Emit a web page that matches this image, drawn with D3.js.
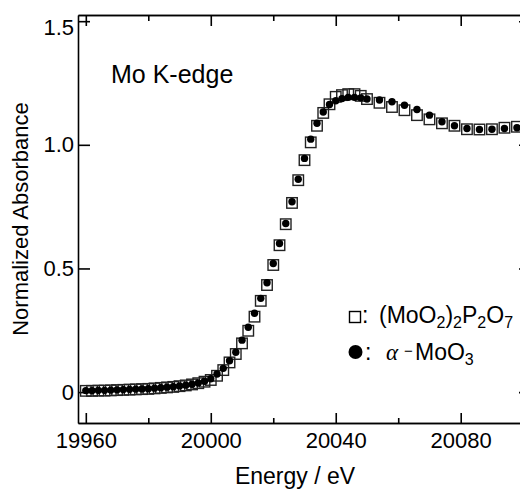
<!DOCTYPE html>
<html>
<head>
<meta charset="utf-8">
<script src="https://cdn.jsdelivr.net/npm/d3@7"></script>
<style>
    body { margin: 0; background: #fff; }
    svg { display: block; font-family: "Liberation Sans", Arial, sans-serif; }
</style>
</head>
<body>
<xanes-chart></xanes-chart>
<script>
// photon energy (eV)
const energy = [
    19960, 19962, 19964, 19966, 19968, 19970, 19972, 19974, 19976, 19978,
    19980, 19982, 19984, 19986, 19988, 19990, 19992, 19994, 19996, 19998,
    20000, 20002, 20004, 20006, 20008, 20010, 20012, 20014, 20016, 20018,
    20020, 20022, 20024, 20026, 20028, 20030, 20032, 20034, 20036, 20038,
    20040, 20042, 20044, 20046, 20048, 20050, 20054, 20058, 20062, 20066,
    20070, 20074, 20078, 20082, 20086, 20090, 20094, 20098
];

// (MoO2)2P2O7 - open squares
const moP2O7 = [
    0.005, 0.005, 0.006, 0.006, 0.007, 0.008, 0.009, 0.010, 0.011, 0.012,
    0.013, 0.015, 0.017, 0.019, 0.021, 0.024, 0.027, 0.031, 0.036, 0.042,
    0.049, 0.066, 0.089, 0.120, 0.154, 0.197, 0.248, 0.305, 0.369, 0.433,
    0.514, 0.594, 0.679, 0.765, 0.857, 0.938, 1.010, 1.077, 1.129, 1.164,
    1.194, 1.201, 1.205, 1.205, 1.198, 1.185, 1.170, 1.153, 1.140, 1.120,
    1.103, 1.087, 1.077, 1.063, 1.062, 1.063, 1.069, 1.073
];

// alpha-MoO3 - filled circles
const moO3 = [
    0.006, 0.006, 0.007, 0.007, 0.008, 0.009, 0.010, 0.011, 0.012, 0.013,
    0.014, 0.016, 0.018, 0.020, 0.022, 0.025, 0.028, 0.032, 0.037, 0.044,
    0.054, 0.073, 0.096, 0.127, 0.161, 0.210, 0.262, 0.319, 0.379, 0.442,
    0.520, 0.601, 0.682, 0.770, 0.861, 0.945, 1.023, 1.087, 1.133, 1.163,
    1.178, 1.187, 1.192, 1.192, 1.190, 1.185, 1.181, 1.174, 1.160, 1.143,
    1.120, 1.093, 1.077, 1.066, 1.062, 1.063, 1.066, 1.069
];

const xTicks = [19960, 20000, 20040, 20080];
const xMinorTicks = [19980, 20020, 20060, 20100];
const yTicks = [0, 0.5, 1.0, 1.5];
const yTickLabels = ['0', '0.5', '1.0', '1.5'];

class XanesChart extends HTMLElement {
    constructor() {
        super();
        this.width = 520;
        this.height = 489;
        this.box = { left: 78, right: 531, top: 15, bottom: 423 };

        this.svg = d3.select(this)
            .append('svg')
            .attr('width', this.width)
            .attr('height', this.height);

        this.x = d3.scaleLinear()
            .domain([19957.5, 20102.5])
            .range([this.box.left, this.box.right]);

        this.y = d3.scaleLinear()
            .domain([-0.125, 1.525])
            .range([this.box.bottom, this.box.top]);
    }

    connectedCallback() {
        this.#drawAxes();
        this.#drawPoints();
        this.#drawLabels();
        this.#drawLegend();
    }

    #styleAxis(g) {
        g.selectAll('path, line').attr('stroke', '#000').attr('stroke-width', 1.6);
        g.selectAll('text').attr('fill', '#000').attr('font-size', 22)
            .attr('font-family', '"Liberation Sans", Arial, sans-serif');
    }

    #drawAxes() {
        const { left, right, top, bottom } = this.box;

        // bottom
        this.svg.append('g')
            .attr('transform', `translate(0, ${bottom})`)
            .call(d3.axisBottom(this.x).tickValues(xTicks).tickFormat(d3.format('d'))
                .tickSize(-10).tickSizeOuter(0).tickPadding(9))
            .call(g => this.#styleAxis(g));
        this.svg.append('g')
            .attr('transform', `translate(0, ${bottom})`)
            .call(d3.axisBottom(this.x).tickValues(xMinorTicks).tickFormat('')
                .tickSize(-5).tickSizeOuter(0))
            .call(g => this.#styleAxis(g));

        // top
        this.svg.append('g')
            .attr('transform', `translate(0, ${top})`)
            .call(d3.axisTop(this.x).tickValues(xTicks).tickFormat('')
                .tickSize(-11).tickSizeOuter(0))
            .call(g => this.#styleAxis(g));
        this.svg.append('g')
            .attr('transform', `translate(0, ${top})`)
            .call(d3.axisTop(this.x).tickValues(xMinorTicks).tickFormat('')
                .tickSize(-6).tickSizeOuter(0))
            .call(g => this.#styleAxis(g));

        // left
        this.svg.append('g')
            .attr('transform', `translate(${left}, 0)`)
            .call(d3.axisLeft(this.y).tickValues(yTicks)
                .tickFormat((d, i) => yTickLabels[i])
                .tickSize(-12).tickSizeOuter(0).tickPadding(4))
            .call(g => this.#styleAxis(g))
            .call(g => g.selectAll('text').filter(d => d === 1.5).attr('dy', '0.62em'));

        // right
        this.svg.append('g')
            .attr('transform', `translate(${right}, 0)`)
            .call(d3.axisRight(this.y).tickValues(yTicks).tickFormat('')
                .tickSize(-12).tickSizeOuter(0))
            .call(g => this.#styleAxis(g));
    }

    #drawPoints() {
        const rows = energy.map((e, i) => ({ e, a: moP2O7[i], b: moO3[i] }));
        const s = 10.5;

        this.svg.append('g')
            .selectAll('rect')
            .data(rows)
            .enter()
            .append('rect')
            .attr('x', d => this.x(d.e) - s / 2)
            .attr('y', d => this.y(d.a) - s / 2)
            .attr('width', s)
            .attr('height', s)
            .attr('fill', 'none')
            .attr('stroke', '#222')
            .attr('stroke-width', 1.4);

        this.svg.append('g')
            .selectAll('circle')
            .data(rows)
            .enter()
            .append('circle')
            .attr('cx', d => this.x(d.e))
            .attr('cy', d => this.y(d.b))
            .attr('r', 3.7)
            .attr('fill', '#000');
    }

    #drawLabels() {
        this.svg.append('text')
            .attr('x', 295)
            .attr('y', 484)
            .attr('text-anchor', 'middle')
            .attr('font-size', 23)
            .text('Energy / eV');

        this.svg.append('text')
            .attr('transform', `translate(28, ${(this.box.top + this.box.bottom) / 2}) rotate(-90)`)
            .attr('text-anchor', 'middle')
            .attr('font-size', 22)
            .text('Normalized Absorbance');

        this.svg.append('text')
            .attr('x', 111)
            .attr('y', 83)
            .attr('font-size', 25)
            .text('Mo K-edge');
    }

    #drawLegend() {
        const lg = this.svg.append('g');

        lg.append('rect')
            .attr('x', 349.5).attr('y', 311.5)
            .attr('width', 11).attr('height', 11)
            .attr('fill', 'none').attr('stroke', '#000').attr('stroke-width', 1.4);

        const t1 = lg.append('text').attr('x', 362).attr('y', 323).attr('font-size', 23);
        t1.append('tspan').text(':');
        t1.append('tspan').attr('x', 379).text('(MoO');
        t1.append('tspan').attr('font-size', 16).attr('dy', 5).text('2');
        t1.append('tspan').attr('dy', -5).text(')');
        t1.append('tspan').attr('font-size', 16).attr('dy', 5).text('2');
        t1.append('tspan').attr('dy', -5).text('P');
        t1.append('tspan').attr('font-size', 16).attr('dy', 5).text('2');
        t1.append('tspan').attr('dy', -5).text('O');
        t1.append('tspan').attr('font-size', 16).attr('dy', 5).text('7');

        lg.append('circle')
            .attr('cx', 355.5).attr('cy', 352).attr('r', 7).attr('fill', '#000');

        const t2 = lg.append('text').attr('x', 365).attr('y', 360).attr('font-size', 23);
        t2.append('tspan').text(':');
        t2.append('tspan').attr('x', 386).attr('font-family', '"Liberation Serif", "Times New Roman", serif')
            .attr('font-style', 'italic').text('α');
        t2.append('tspan').attr('x', 404).attr('font-size', 15).attr('dy', -4).text('−');
        t2.append('tspan').attr('x', 415).attr('dy', 4).text('MoO');
        t2.append('tspan').attr('font-size', 16).attr('dy', 5).text('3');
    }

    static define(tag = 'xanes-chart') {
        customElements.define(tag, this);
    }
}

XanesChart.define();
</script>
</body>
</html>
